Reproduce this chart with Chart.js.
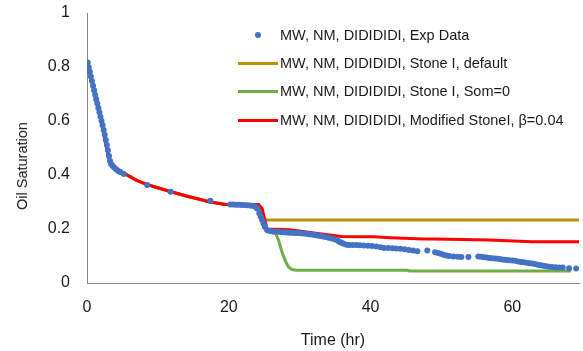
<!DOCTYPE html>
<html>
<head>
<meta charset="utf-8">
<script src="https://cdn.jsdelivr.net/npm/chart.js@4.4.1/dist/chart.umd.min.js"></script>
<style>
  html, body { margin: 0; padding: 0; background: #fff; overflow: hidden; }
  #wrap { position: relative; width: 583px; height: 351px; }
  #legend { position: absolute; left: 0; top: 0; font-family: "Liberation Sans", Arial, sans-serif; font-size: 14.5px; color: #1a1a1a; }
  .item { position: absolute; left: 238px; height: 18px; line-height: 18px; white-space: nowrap; }
  .mark { display: inline-block; width: 40px; height: 18px; position: relative; vertical-align: top; margin-right: 2px; }
  .mark .ln { position: absolute; left: 0; top: 7.5px; width: 40px; height: 3px; }
  .mark .dot { position: absolute; left: 17px; top: 6px; width: 6px; height: 6px; border-radius: 50%; }
  #ytitle { position: absolute; left: 22px; top: 166px; transform: translate(-50%, -50%) rotate(-90deg); font-family: "Liberation Sans", Arial, sans-serif; font-size: 14.5px; color: #1a1a1a; white-space: nowrap; }
</style>
</head>
<body>
<div id="wrap">
  <canvas id="grafico" width="583" height="351"></canvas>
  <div id="ytitle">Oil Saturation</div>
  <div id="legend"></div>
</div>
<script>
// Nomes das series
var seriesNames = [
  'MW, NM, DIDIDIDI, Exp Data',
  'MW, NM, DIDIDIDI, Stone I, default',
  'MW, NM, DIDIDIDI, Stone I, Som=0',
  'MW, NM, DIDIDIDI, Modified StoneI, \u03b2=0.04'
];
var seriesColors = ['#4472C4', '#BF9000', '#70AD47', '#FF0000'];

// Dados experimentais (tempo em horas, saturacao de oleo)
var expTime = [0.1, 0.25, 0.4, 0.55, 0.7, 0.85, 1.0, 1.15, 1.3, 1.45, 1.6, 1.75, 1.9, 2.05, 2.2, 2.35, 2.5, 2.65, 2.8, 2.95, 3.1, 3.25,
  3.4, 3.6, 3.8, 4.1, 4.4, 4.7, 5.2, 8.5, 11.8, 17.4,
  20.2, 20.6, 21.0, 21.4, 21.8, 22.2, 22.6, 23.0, 23.3, 23.7, 24.0, 24.3, 24.5, 24.7, 24.9, 25.1, 25.4, 25.8, 26.2, 26.5, 26.9,
  27.3, 27.7, 28.1, 28.5, 28.9, 29.3, 29.7, 30.1, 30.5, 30.9, 31.3, 31.7, 32.1, 32.5, 32.9, 33.3, 33.7, 34.1, 34.5, 34.9,
  35.3, 35.6, 35.9, 36.2, 36.6, 37.0, 37.5, 38.0, 38.5, 39.0, 39.6, 40.2, 40.8, 41.4, 41.9, 42.5, 43.1, 43.6, 44.2, 44.8,
  45.4, 46.0, 46.6, 48.0, 49.1, 49.5, 49.9, 50.3, 50.7, 51.1, 51.7, 52.3, 52.8, 53.8, 55.2, 55.6, 56.0, 56.4, 56.8, 57.2,
  57.6, 58.0, 58.4, 58.8, 59.2, 59.6, 60.0, 60.4, 60.8, 61.2, 61.6, 62.0, 62.4, 62.8, 63.2, 63.6, 64.0, 64.4, 64.8, 65.2,
  65.6, 66.1, 66.6, 67.1, 68.0, 69.0];
var expSo = [0.817, 0.799, 0.782, 0.765, 0.748, 0.731, 0.714, 0.697, 0.681, 0.665, 0.648, 0.632, 0.616, 0.600, 0.584, 0.567, 0.549, 0.530, 0.511, 0.492, 0.470, 0.452,
  0.441, 0.434, 0.429, 0.421, 0.415, 0.411, 0.404, 0.363, 0.338, 0.305,
  0.291, 0.291, 0.290, 0.290, 0.289, 0.289, 0.288, 0.287, 0.286, 0.282, 0.276, 0.258, 0.245, 0.233, 0.220, 0.207, 0.196, 0.193, 0.191, 0.190, 0.190,
  0.189, 0.188, 0.187, 0.186, 0.186, 0.185, 0.185, 0.184, 0.183, 0.182, 0.181, 0.180, 0.178, 0.176, 0.174, 0.172, 0.170, 0.168, 0.165, 0.162,
  0.158, 0.153, 0.149, 0.145, 0.142, 0.141, 0.141, 0.141, 0.140, 0.139, 0.138, 0.137, 0.135, 0.132, 0.130, 0.130, 0.129, 0.128, 0.127, 0.125,
  0.122, 0.120, 0.118, 0.120, 0.114, 0.111, 0.108, 0.105, 0.102, 0.100, 0.098, 0.097, 0.096, 0.096, 0.098, 0.097, 0.095, 0.094, 0.093, 0.092,
  0.091, 0.090, 0.088, 0.086, 0.085, 0.084, 0.083, 0.082, 0.080, 0.078, 0.077, 0.075, 0.073, 0.072, 0.070, 0.068, 0.066, 0.064, 0.062, 0.060,
  0.059, 0.058, 0.057, 0.057, 0.055, 0.054];

// Stone I, default
var defaultTime = [0, 1, 2, 3, 3.4, 4, 5, 6, 7, 8.4, 10.2, 12, 14, 16, 17.2, 18.5, 19.5, 24.2, 24.8, 69.4];
var defaultSo = [0.82, 0.715, 0.605, 0.47, 0.44, 0.425, 0.41, 0.395, 0.38, 0.365, 0.351, 0.337, 0.322, 0.309, 0.301, 0.295, 0.291, 0.291, 0.233, 0.233];

// Stone I, Som=0
var som0Time = [0, 1, 2, 3, 3.4, 4, 5, 6, 7, 8.4, 10.2, 12, 14, 16, 17.2, 18.5, 19.5, 24.2, 25.4, 26.5, 27.0, 27.5, 28.0, 28.4, 28.9, 29.5, 45.2, 45.5, 68.3];
var som0So = [0.82, 0.715, 0.605, 0.47, 0.44, 0.425, 0.41, 0.395, 0.38, 0.365, 0.351, 0.337, 0.322, 0.309, 0.301, 0.295, 0.291, 0.291, 0.19, 0.19, 0.16, 0.115, 0.08, 0.06, 0.05, 0.047, 0.047, 0.044, 0.044];

// Modified Stone I, beta = 0.04
var modTime = [0, 1, 2, 3, 3.4, 4, 5, 6, 7, 8.4, 10.2, 12, 14, 16, 17.2, 18.5, 19.5, 24.2, 24.7, 25.4, 27, 28.9, 32, 35.9, 40.5, 42.8, 47.5, 48.9, 56.8, 62.7, 69.4];
var modSo = [0.82, 0.715, 0.605, 0.47, 0.44, 0.425, 0.41, 0.395, 0.38, 0.365, 0.351, 0.337, 0.322, 0.309, 0.301, 0.295, 0.291, 0.291, 0.276, 0.2, 0.199, 0.196, 0.185, 0.172, 0.171, 0.168, 0.163, 0.163, 0.159, 0.153, 0.153];

// Eixos
var xTicks = [0, 20, 40, 60];
var yTicks = [0, 0.2, 0.4, 0.6, 0.8, 1];

function pares(xs, ys) {
  return xs.map(function (x, i) { return { x: x, y: ys[i] }; });
}

var fonte = { family: '"Liberation Sans", Arial, sans-serif', size: 16 };
var corTexto = '#1a1a1a';
var corEixo = '#888888';

var ctx = document.getElementById('grafico').getContext('2d');
var grafico = new Chart(ctx, {
  type: 'scatter',
  data: {
    datasets: [{
      label: seriesNames[0],
      data: pares(expTime, expSo),
      backgroundColor: seriesColors[0],
      borderColor: seriesColors[0],
      pointRadius: 3,
      borderWidth: 0,
      showLine: false,
      order: 0
    }, {
      label: seriesNames[1],
      data: pares(defaultTime, defaultSo),
      borderColor: seriesColors[1],
      borderWidth: 3,
      pointRadius: 0,
      showLine: true,
      order: 3
    }, {
      label: seriesNames[2],
      data: pares(som0Time, som0So),
      borderColor: seriesColors[2],
      borderWidth: 3,
      pointRadius: 0,
      showLine: true,
      order: 2
    }, {
      label: seriesNames[3],
      data: pares(modTime, modSo),
      borderColor: seriesColors[3],
      borderWidth: 3,
      pointRadius: 0,
      showLine: true,
      order: 1
    }]
  },
  options: {
    responsive: false,
    animation: false,
    devicePixelRatio: 1,
    layout: { padding: { top: 13, right: 0, left: 0, bottom: 0 } },
    plugins: {
      legend: { display: false },
      tooltip: { enabled: false }
    },
    scales: {
      x: {
        type: 'linear',
        min: 0,
        max: 69.4,
        afterFit: function (s) { s.height = 68; s.paddingLeft = 0; s.paddingRight = 0; },
        afterBuildTicks: function (s) { s.ticks = xTicks.map(function (v) { return { value: v }; }); },
        grid: { display: false, drawTicks: false },
        border: { display: true, color: corEixo, width: 1 },
        ticks: { font: fonte, color: corTexto, padding: 15, maxRotation: 0 },
        title: { display: true, text: 'Time (hr)', font: { family: fonte.family, size: 16 }, color: corTexto, padding: { top: 0, bottom: 1 } }
      },
      y: {
        min: 0,
        max: 1,
        afterFit: function (s) { s.width = 87; s.paddingTop = 0; s.paddingBottom = 0; },
        afterBuildTicks: function (s) { s.ticks = yTicks.map(function (v) { return { value: v }; }); },
        grid: { display: false, drawTicks: false },
        border: { display: true, color: corEixo, width: 1 },
        ticks: {
          font: fonte, color: corTexto, padding: 17,
          callback: function (v) { return String(v); }
        }
      }
    }
  }
});

// Legenda dentro da area do grafico
var legendaY = [35, 63, 91, 120];
var html = '';
for (var i = 0; i < seriesNames.length; i++) {
  var marca = i === 0
    ? '<span class="dot" style="background:' + seriesColors[i] + '"></span>'
    : '<span class="ln" style="background:' + seriesColors[i] + '"></span>';
  html += '<div class="item" style="top:' + (legendaY[i] - 9) + 'px"><span class="mark">' + marca + '</span>' + seriesNames[i] + '</div>';
}
document.getElementById('legend').innerHTML = html;
</script>
</body>
</html>
